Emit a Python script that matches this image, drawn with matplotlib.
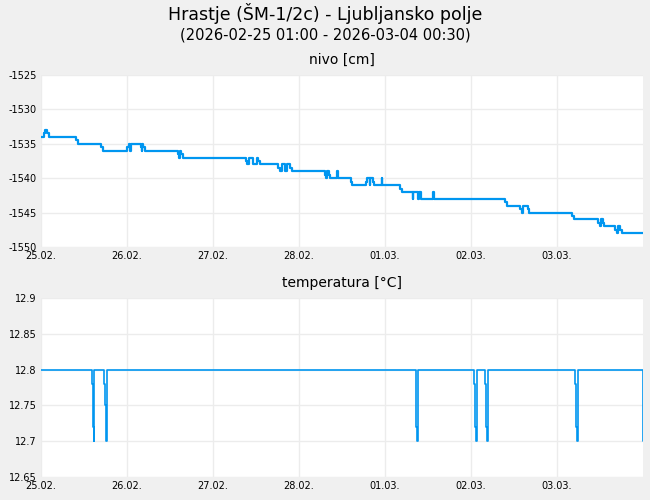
import numpy as np
import matplotlib.pyplot as plt
from datetime import datetime, timedelta

plt.rcParams['axes.unicode_minus'] = False

# days counted from 25.02.2026 00:00, values as step breakpoints
nivo_days = [0.01, 0.04, 0.05, 0.07, 0.09, 0.41, 0.43, 0.70, 0.72,
             1.00, 1.02, 1.03, 1.05, 1.06, 1.16, 1.17, 1.18, 1.19, 1.21, 1.22,
             1.59, 1.60, 1.62, 1.63, 1.65, 1.66, 2.38, 2.40, 2.42, 2.44, 2.47, 2.49, 2.51, 2.52, 2.55,
             2.76, 2.78, 2.80, 2.83, 2.84, 2.86, 2.90, 2.92,
             3.30, 3.31, 3.33, 3.35, 3.36, 3.44, 3.45, 3.46, 3.60, 3.62,
             3.78, 3.79, 3.82, 3.83, 3.86, 3.87, 3.96, 3.97, 3.98, 4.18, 4.20,
             4.30, 4.32, 4.33, 4.35, 4.38, 4.39, 4.42, 4.45, 4.56, 4.57, 4.58,
             5.40, 5.42, 5.57, 5.59, 5.60, 5.62, 5.66, 5.68,
             6.18, 6.20, 6.48, 6.50, 6.51, 6.53, 6.55, 6.68, 6.70, 6.71, 6.73, 6.75, 7.0]
nivo_vals = [-1534, -1533.5, -1533, -1533.5, -1534, -1534.5, -1535, -1535.5, -1536,
             -1535.5, -1535, -1536, -1535, -1535, -1535.5, -1536, -1535, -1535.5, -1536, -1536,
             -1536.5, -1537, -1536, -1536.5, -1537, -1537, -1537.5, -1538, -1537, -1537, -1538, -1538, -1537, -1537.5, -1538,
             -1538.5, -1539, -1538, -1538, -1539, -1538, -1538.5, -1539,
             -1539.5, -1540, -1539, -1539.5, -1540, -1539, -1540, -1540, -1540.5, -1541,
             -1540.5, -1540, -1541, -1540, -1540.5, -1541, -1540, -1541, -1541, -1541.5, -1542,
             -1542, -1543, -1542, -1542, -1543, -1542, -1543, -1543, -1542, -1543, -1543,
             -1543.5, -1544, -1544.5, -1545, -1544, -1544, -1544.5, -1545,
             -1545.5, -1546, -1546.5, -1547, -1546, -1546.5, -1547, -1547.5, -1548, -1547, -1547.5, -1548, -1548]

temp_days = [0.0, 0.592, 0.600, 0.618, 0.622, 0.628,
             0.733, 0.740, 0.755, 0.760, 0.764,
             4.355, 4.36, 4.375, 4.38, 4.385,
             5.04, 5.045, 5.06, 5.065, 5.07,
             5.168, 5.173, 5.188, 5.193, 5.198,
             6.215, 6.22, 6.235, 6.24, 6.245,
             6.995, 7.0, 7.01]
temp_vals = [12.8, 12.78, 12.72, 12.70, 12.8, 12.8,
             12.78, 12.75, 12.72, 12.70, 12.8,
             12.78, 12.72, 12.70, 12.8, 12.8,
             12.78, 12.72, 12.70, 12.8, 12.8,
             12.78, 12.72, 12.70, 12.8, 12.8,
             12.78, 12.72, 12.70, 12.8, 12.8,
             12.75, 12.70, 12.70]

tick_labels = ['25.02.', '26.02.', '27.02.', '28.02.', '01.03.', '02.03.', '03.03.']

t0 = datetime(2026, 2, 25)
nivo_t = [t0 + timedelta(days=d) for d in nivo_days]
temp_t = [t0 + timedelta(days=d) for d in temp_days]
ticks = [t0 + timedelta(days=i) for i in range(len(tick_labels))]

bg = '#f0f0f0'
line_c = '#0096f0'
grid_c = '#ececec'

fig = plt.figure(figsize=(6.5, 5), dpi=100, facecolor=bg)
fig.text(0.5, 0.972, 'Hrastje (ŠM-1/2c) - Ljubljansko polje', ha='center', va='center', fontsize=12.5)
fig.text(0.5, 0.930, '(2026-02-25 01:00 - 2026-03-04 00:30)', ha='center', va='center', fontsize=10.5)

ax1 = fig.add_axes([41/650, 253/500, 602/650, 172/500])
ax2 = fig.add_axes([41/650, 23/500, 602/650, 179/500])

ax1.plot(nivo_t, nivo_vals, drawstyle='steps-post', color=line_c, lw=1.6)
ax1.set_ylim(-1550, -1525)
ax1.set_yticks(np.arange(-1550, -1524, 5))
ax1.set_title('nivo [cm]', fontsize=10, pad=8)

ax2.plot(temp_t, temp_vals, drawstyle='steps-post', color=line_c, lw=1.2)
ax2.set_ylim(12.65, 12.9)
ax2.set_yticks([12.65, 12.7, 12.75, 12.8, 12.85, 12.9])
ax2.set_yticklabels(['12.65', '12.7', '12.75', '12.8', '12.85', '12.9'])
ax2.set_title('temperatura [°C]', fontsize=10, pad=8)

for ax in (ax1, ax2):
    ax.set_facecolor('white')
    ax.set_xlim(t0, t0 + timedelta(days=7))
    ax.set_xticks(ticks)
    ax.set_xticklabels(tick_labels)
    ax.grid(True, color=grid_c, lw=1)
    ax.set_axisbelow(True)
    for s in ax.spines.values():
        s.set_visible(False)
    ax.tick_params(length=0, labelsize=7, pad=3)

fig.savefig('out.png', dpi=100, facecolor=bg)
